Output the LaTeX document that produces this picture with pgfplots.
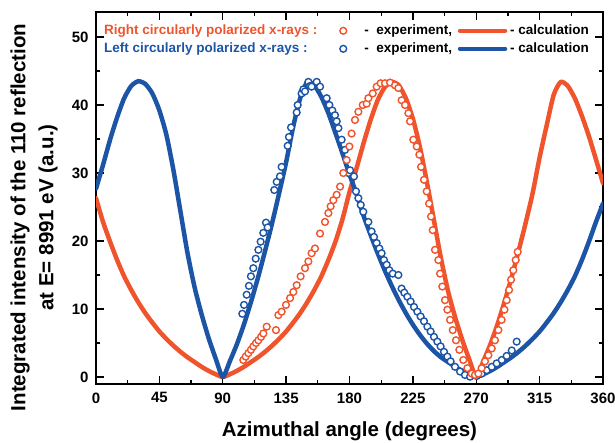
\documentclass[border=0pt]{standalone}
\usepackage{pgfplots}
\pgfplotsset{compat=1.18}
\usepackage{fontspec}
\setmainfont{Liberation Sans}
\definecolor{rc}{RGB}{240,84,44}
\definecolor{bc}{RGB}{28,84,166}
\pgfplotsset{
  legmark/.style={legend image code/.code={\path[draw=none,fill=none] (0pt,0pt) -- (47pt,0pt); \draw[##1] plot coordinates {(26pt,0pt)};}},
  legline/.style={legend image code/.code={\path[draw=none,fill=none] (0pt,0pt) -- (58pt,0pt); \draw[##1] (8pt,0pt) -- (53pt,0pt);}},
  legnone/.style={legend image code/.code={}},
}

\begin{document}
\begin{tikzpicture}
\begin{axis}[
  scale only axis, width=507pt, height=372pt,
  xmin=0, xmax=360, ymin=-1.03, ymax=53.68,
  xtick={0,45,...,360}, ytick={0,10,...,50},
  minor x tick num=1, minor y tick num=1,
  tick align=inside,
  major tick length=8pt, minor tick length=4pt,
  axis line style={line width=1.6pt},
  tick style={line width=1.3pt, black},
  /pgf/number format/assume math mode=true,
  tick label style={font=\fontsize{15}{18}\selectfont\bfseries},
  xticklabel shift=5pt, yticklabel shift=4pt,
  xlabel={Azimuthal angle (degrees)},
  xlabel style={font=\fontsize{20.5}{24}\selectfont\bfseries,
    at={(axis description cs:0.5,0)}, anchor=base, yshift=-53pt},
  ylabel={Integrated intensity of the 110 reflection\\at E= 8991 eV (a.u.)},
  ylabel style={align=center, font=\fontsize{20.5}{28}\selectfont\bfseries,
    at={(axis description cs:-0.122,0.4476)}, anchor=center},
  legend columns=3, legend cell align=left,
  legend style={draw=none, fill=none, inner sep=0pt, column sep=0pt, row sep=5pt,
    at={(rel axis cs:0.0158,0.9675)}, anchor=north west,
    font=\fontsize{13.5}{16}\selectfont\bfseries,
    nodes={inner sep=0pt, text height=10pt, text depth=3pt}},
]
% calculation, right circular
\addplot[forget plot, rc, line width=4.5pt, line join=round, line cap=round, smooth, tension=0.4] coordinates {
(0,26.3) (5,22.8) (10,19.9) (15,17.2) (20,14.8) (25,12.8) (30,11.0) (35,9.4) (40,8.0) (45,6.7)
(50,5.6) (55,4.6) (60,3.7) (65,2.9) (70,2.2) (75,1.5) (80,0.9) (85,0.4) (90,0)
(95,0.4) (100,0.9) (105,1.5) (110,2.2) (115,2.9) (120,3.7) (125,4.6) (130,5.6) (135,6.7) (140,8.0)
(145,9.4) (150,11.0) (155,12.8) (160,14.8) (165,17.2) (170,19.9) (175,23.2) (180,27.2)
(185,30.7) (190,34.4) (195,37.8) (200,40.7) (205,42.6) (210,43.4) (215,42.9) (220,41.0) (225,38.0)
(230,33.8) (235,28.6) (240,23.0) (245,17.4) (250,12.6) (255,8.8) (260,5.5) (265,2.6) (270,0)
(275,2.3) (280,4.8) (285,7.7) (290,11.0) (295,14.6) (300,18.5) (305,22.6) (310,27.0) (315,32.3)
(320,37.0) (325,41.5) (330,43.4) (335,42.8) (340,41.0) (345,38.4) (350,35.4) (355,32.0) (360,28.5)
};
% calculation, left circular
\addplot[forget plot, bc, line width=4.5pt, line join=round, line cap=round, smooth, tension=0.4] coordinates {
(0,27.7) (5,31.2) (10,34.9) (15,38.2) (20,41.0) (25,42.8) (30,43.5) (35,43.1) (40,41.7) (45,39.2)
(50,35.6) (55,30.4) (60,24.3) (65,18.2) (70,13.2) (75,9.2) (80,5.7) (85,2.7) (90,0)
(95,2.3) (100,4.8) (105,7.7) (110,11.0) (115,14.6) (120,18.5) (125,22.6) (130,27.0) (135,31.6)
(140,36.8) (145,41.0) (150,43.4) (155,42.9) (160,41.2) (165,38.8) (170,35.9) (175,32.9) (180,29.8)
(185,26.9) (190,23.7) (195,20.9) (200,18.2) (205,15.7) (210,13.4) (215,11.3) (220,9.4) (225,7.7)
(230,6.2) (235,4.9) (240,3.8) (245,2.9) (250,2.2) (255,1.5) (260,0.9) (265,0.4) (270,0)
(275,0.4) (280,0.9) (285,1.5) (290,2.2) (295,2.9) (300,3.7) (305,4.6) (310,5.6) (315,6.7)
(320,8.0) (325,9.4) (330,11.0) (335,12.8) (340,14.8) (345,17.2) (350,19.9) (355,22.8) (360,25.5)
};
% experiment, left circular
\addplot[forget plot, only marks, mark=*, mark size=3.4pt,
  mark options={draw=bc, fill=white, line width=1.4pt}] coordinates {
(103.9,9.3) (105.1,10.6) (107,12.1) (108.6,13.4) (110,14.8) (111.7,16) (113.4,17.4) (115.3,18.7)
(116.9,19.9) (118.8,21.2) (120.7,22.7) (121.9,22) (126.6,27.5) (128.3,28.7) (130.6,29.5) (131.8,30.9)
(136.1,34) (137,35.3) (138.5,36.7) (142.5,38.9) (143.2,40) (146,41.7) (147.2,42.3) (148.4,42)
(150.8,43.4) (152,42.8) (153.1,42.7) (156.7,43.4) (159.1,42.7) (163.8,41) (165.7,40) (167.8,39.2)
(169.7,38.5) (170.9,37.6) (172.1,36.6) (174.4,34.9) (176.8,33.4) (179.2,30) (180.4,30.4)
(183.2,29.5) (184.6,27.3) (186.3,26.3) (188,25.3) (189.8,24.3) (193.4,22.8) (195.7,21.4)
(197.4,20.6) (199.3,19.7) (201.2,18.9) (202.8,18.2) (204.5,17.2) (206.4,16.5) (208.3,15.7)
(210.7,15.2) (214.7,15) (217,13) (218.9,12.4) (221.1,11.8) (223.4,11.1) (225.8,10.3) (228.2,9.6)
(230.5,8.9) (232.9,8.2) (235.3,7.4) (237.6,6.7) (240,5.9) (242.4,5.2) (244.7,4.5) (247.1,3.7)
(249.5,3) (251.8,2.3) (254.9,1.5) (258.5,0.8) (262,0.3) (265.6,0.05) (270.3,0.15) (273.8,0.5)
(277.4,1) (281,1.5) (284.5,2) (288.1,2.5) (291.6,3.1) (295.2,3.9) (298.7,5.2)
};
% experiment, right circular
\addplot[forget plot, only marks, mark=*, mark size=3.4pt,
  mark options={draw=rc, fill=white, line width=1.4pt}] coordinates {
(104.6,2.5) (106.3,3) (108.2,3.5) (110,4) (111.7,4.5) (113.6,5) (115.3,5.4) (117.2,5.9) (118.8,6.4)
(121.2,7.4) (127.8,6.9) (129.5,9.1) (131.8,9.6) (134.9,10.6) (137.8,11.6) (140.1,12.5) (142.5,13.5)
(145.3,14.8) (148.4,16) (150.8,17) (153.1,18.2) (155.5,18.9) (159.1,21.1) (162.6,22.8) (165,24.1)
(166.6,25.1) (168.5,26) (170.9,26.8) (173.3,28) (175.6,30) (178,31.9) (179.9,33.9) (181.5,35.8)
(183.9,37.8) (186.3,39) (189.4,40) (192.2,40.2) (193.4,41) (196.5,41.7) (199.3,42.7) (202.1,43.2)
(205.2,43.2) (208.8,43.3) (212.3,42.9) (214.7,42.5) (217,40.7) (219.4,40) (221.8,38.8) (223,37.6)
(225.3,34.9) (227.7,33.9) (229.6,32.7) (230.8,30.9) (232.9,29) (234.8,27.3) (236.5,25.5)
(237.9,23.6) (239.1,21.6) (240.7,18.7) (243.1,17.2) (244.3,15.2) (245.9,13.3) (247.8,11.3)
(249.5,9.9) (251.4,8.4) (253.3,6.9) (255.6,5.4) (258,4) (260.8,2.5) (263.7,1.3) (266.8,0.5)
(269.1,0.3) (271.5,0.5) (273.8,1.3) (276.2,2.3) (278.6,3.2) (281,4.2) (283.3,5.4) (285.7,6.9)
(288,8.4) (290,9.9) (291.6,11.3) (293.3,12.8) (294.7,14.3) (296.3,15.7) (298,17.2) (299.4,18.4)
};
% legend
\addlegendimage{legnone}
\addlegendentry{\textcolor{rc}{Right circularly polarized x-rays :}}
\addlegendimage{only marks, mark=*, mark size=3.4pt, mark options={draw=rc, fill=white, line width=1.4pt}, legmark}
\addlegendentry{-\ \ experiment,}
\addlegendimage{rc, line width=4.5pt, line cap=round, legline}
\addlegendentry{- calculation}
\addlegendimage{legnone}
\addlegendentry{\textcolor{bc}{Left circularly polarized x-rays :}}
\addlegendimage{only marks, mark=*, mark size=3.4pt, mark options={draw=bc, fill=white, line width=1.4pt}, legmark}
\addlegendentry{-\ \ experiment,}
\addlegendimage{bc, line width=4.5pt, line cap=round, legline}
\addlegendentry{- calculation}
\end{axis}
\pgfresetboundingbox
\path ([shift={(-96pt,-59pt)}]current axis.south west) rectangle ([shift={(12pt,12pt)}]current axis.north east);
\end{tikzpicture}
\end{document}
